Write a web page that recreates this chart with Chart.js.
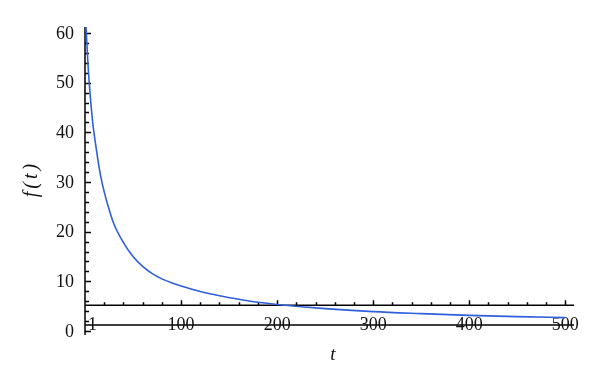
<!DOCTYPE html>
<html>
<head>
<meta charset="utf-8">
<script src="https://cdn.jsdelivr.net/npm/chart.js@4.4.1/dist/chart.umd.min.js"></script>
<style>
  html, body { margin: 0; padding: 0; background: #fff; }
  canvas { display: block; }
</style>
</head>
<body>
<canvas id="decayChart" width="600" height="387"></canvas>
<script>
// values
var tValues = [1, 3, 5, 8, 10, 13, 16, 20, 25, 30, 40, 50, 60, 70, 80, 90, 100, 120, 140, 160, 180, 200, 250, 300, 350, 400, 450, 500];
var fValues = [61.5, 54, 48.5, 42, 39, 35, 31.5, 28, 24.5, 21.6, 17.8, 15.0, 13.0, 11.55, 10.5, 9.7, 9.05, 7.95, 7.1, 6.4, 5.8, 5.35, 4.5, 3.9, 3.5, 3.15, 2.9, 2.7];

var yTicks = [0, 10, 20, 30, 40, 50, 60];
var xTickValues = [1, 100, 200, 300, 400, 500];
var xTickLabels = ['1', '100', '200', '300', '400', '500'];

var points = tValues.map(function (t, i) { return { x: t, y: fValues[i] }; });

var FONT = '18px "Liberation Serif", "DejaVu Serif", serif';
var ITALIC = 'italic 19px "Liberation Serif", "DejaVu Serif", serif';

// draws the Mathematica-style axes: ticks point inward, x axis crosses at f = 5.2
var axesPlugin = {
    id: 'mmaAxes',
    beforeDatasetsDraw: function (chart) {
        var ctx = chart.ctx;
        var xs = chart.scales.x;
        var ys = chart.scales.y;
        var area = chart.chartArea;
        var x0 = xs.getPixelForValue(0);
        var yCross = ys.getPixelForValue(5.2);
        var yLabelLine = ys.getPixelForValue(1.2);
        var v, p;

        ctx.save();
        ctx.strokeStyle = '#000';
        ctx.fillStyle = '#111';
        ctx.lineWidth = 1.5;

        // y axis line
        ctx.beginPath();
        ctx.moveTo(x0, area.top);
        ctx.lineTo(x0, area.bottom);
        ctx.stroke();

        // y ticks (major every 10, minor every 2)
        ctx.beginPath();
        for (v = 0; v <= 60; v += 2) {
            p = Math.round(ys.getPixelForValue(v)) + 0.5;
            ctx.moveTo(x0, p);
            ctx.lineTo(x0 + (v % 10 === 0 ? 6 : 4), p);
        }
        ctx.stroke();

        // x axis lines
        ctx.beginPath();
        ctx.moveTo(x0, yCross);
        ctx.lineTo(area.right, yCross);
        ctx.moveTo(x0, yLabelLine);
        ctx.lineTo(area.right, yLabelLine);
        ctx.stroke();

        // x ticks (major every 100, minor every 20), pointing up
        ctx.beginPath();
        for (v = 20; v <= 500; v += 20) {
            p = Math.round(xs.getPixelForValue(v)) + 0.5;
            ctx.moveTo(p, yCross);
            ctx.lineTo(p, yCross - (v % 100 === 0 ? 5 : 3));
        }
        ctx.stroke();

        // y tick labels
        ctx.font = FONT;
        ctx.textAlign = 'right';
        ctx.textBaseline = 'middle';
        yTicks.forEach(function (t) {
            ctx.fillText(String(t), x0 - 11, ys.getPixelForValue(t) + 1);
        });

        // x tick labels sit across the lower line
        ctx.textBaseline = 'alphabetic';
        xTickValues.forEach(function (t, i) {
            var px = xs.getPixelForValue(t);
            if (t === 1) {
                ctx.textAlign = 'left';
                ctx.fillText(xTickLabels[i], px + 2, yLabelLine + 4.5);
            } else {
                ctx.textAlign = 'center';
                ctx.fillText(xTickLabels[i], px, yLabelLine + 4.5);
            }
        });

        // axis titles
        ctx.font = ITALIC;
        ctx.textAlign = 'center';
        ctx.textBaseline = 'middle';
        ctx.fillText('t', 333, 355);
        ctx.save();
        ctx.translate(32, 180);
        ctx.rotate(-Math.PI / 2);
        ctx.font = 'italic 20px "Liberation Serif", "DejaVu Serif", serif';
        ctx.letterSpacing = '3px';
        ctx.fillText('f(t)', 1, 0);
        ctx.restore();

        ctx.restore();
    }
};

var ctx = document.getElementById('decayChart').getContext('2d');
var decayChart = new Chart(ctx, {
    type: 'line',
    data: {
        datasets: [{
            label: 'f(t)',
            data: points,
            borderColor: '#2f5fdc',
            borderWidth: 1.6,
            pointRadius: 0,
            fill: false,
            cubicInterpolationMode: 'monotone'
        }]
    },
    options: {
        responsive: false,
        animation: false,
        devicePixelRatio: 1,
        layout: { padding: { left: 85, right: 26, top: 27, bottom: 52 } },
        plugins: { legend: { display: false }, tooltip: { enabled: false } },
        scales: {
            x: { type: 'linear', min: 0, max: 509, display: false },
            y: { type: 'linear', min: -0.8, max: 61.2, display: false }
        }
    },
    plugins: [axesPlugin]
});
</script>
</body>
</html>
